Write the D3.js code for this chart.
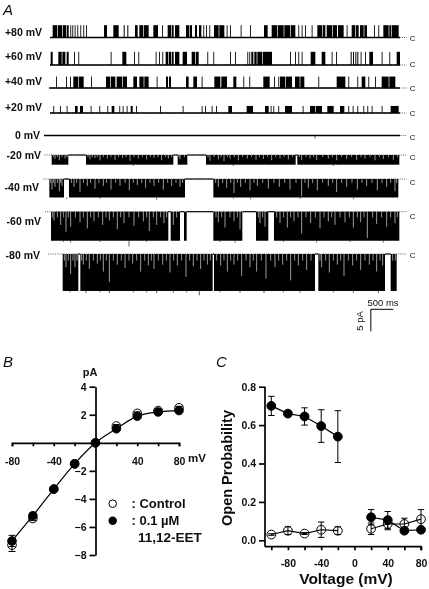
<!DOCTYPE html>
<html>
<head>
<meta charset="utf-8">
<script src="https://cdnjs.cloudflare.com/ajax/libs/d3/7.8.5/d3.min.js"></script>
<style>
  html, body { margin: 0; padding: 0; background: #fff; }
  text { font-family: "Liberation Sans", Arial, sans-serif; fill: #111; }
  .bold { font-weight: bold; }
  .panel { font-style: italic; font-size: 15px; }
</style>
</head>
<body>
<div id="chart"></div>
<script>
//Panel A: single channel records, digitised in ticks along the record (72 ticks = 500 ms)
var voltageLabels = ["+80 mV", "+60 mV", "+40 mV", "+20 mV", "0 mV", "-20 mV", "-40 mV", "-60 mV", "-80 mV"];
var amplitudes = [2.8, 3.0, 2.6, 1.6, 0, -2.2, -4.2, -6.6, -8.4];
//[start, end] of each opening, a lone number is a brief opening
var open80 = [[158,172],[174,186],[188,198],[200,206],211,217,224,232,241,250,258,[312,321],[340,356],[371,374],[382,385],[405,413],[418,430],[432,446],[460,474],486,[503,513],[515,521],[525,538],[558,567],[569,576],[585,591],[597,604],610,618,628,[642,656],[658,673],680,690,722,750,[792,803],[815,831],[833,851],[853,870],[872,886],895,905,915,935,[952,966],[968,976],[980,996],[998,1011],[1014,1031],1040,[1055,1065],[1067,1076],[1080,1091],[1093,1101],1122,1135,[1150,1166],[1168,1174],[1176,1196]];
var open60 = [[152,158],[175,185],[187,196],[200,206],222,235,332,[367,379],402,415,467,477,487,[497,504],[506,513],[515,521],[525,538],[548,561],[575,586],[588,596],622,640,690,705,742,748,[754,760],[763,770],[772,786],[788,816],870,885,895,905,[932,946],[965,976],995,1008,[1052,1055],[1059,1062],[1066,1069],[1072,1075],1082,1095,[1108,1119],1145,1168,[1190,1200]];
var open40 = [168,198,210,[220,234],[236,251],273,[318,331],[333,346],[350,366],[368,381],[400,411],[418,431],[433,446],470,[498,504],[507,513],[558,566],[580,591],605,[643,661],[664,681],[700,709],730,748,[790,809],822,835,[840,856],[858,876],[885,899],[901,913],955,[1010,1036],1045,1072,[1085,1096],1105,1125,[1145,1166],[1168,1186]];
var open20 = [160,180,200,[225,233],[240,249],272,298,322,[335,343],358,368,380,[392,398],408,480,548,605,615,635,648,[685,696],[740,759],[795,806],812,820,835,[855,876],908,[930,946],[948,966],[982,1001],[1020,1033],1045,1058,1072,1090,1102,1115,1145,[1172,1196]];
var open0 = [];
var openN20 = [[155,205],[258,520],[533,562],[618,887],[892,1198]];
var openN40 = [[148,192],[207,555],[640,1195]];
var openN60 = [[153,505],[512,540],[552,560],[640,727],[768,805],[822,1198]];
var openN80 = [[188,235],[241,638],[642,945],[955,1155],[1172,1190]];
var traceOpenings = [open80, open60, open40, open20, open0, openN20, openN40, openN60, openN80];
//Brief closures inside the open blocks: [tick, current reached in pA]
var flickN20 = [[165,-.9],[178,-1.2],[195,-.8],[270,-1],[285,-.7],[300,-1.2],[322,-.8],[345,-1.1],[368,-.7],[390,-1.3],[415,-.8],[440,-1],[462,-.7],[485,-1.2],[505,-.8],[540,-1],[630,-1.3],[655,-1],[672,-1.4],[690,-.8],[715,-1.2],[742,-.8],[768,-1.1],[790,-.9],[815,-1.2],[840,-.8],[865,-1],[905,-1.2],[930,-.8],[950,-1.1],[985,-.8],[1010,-1.2],[1040,-.9],[1070,-1.1],[1095,-.8],[1125,-1.2],[1150,-.9],[1180,-1.1]];
var flickN40 = [[156,-2.4],[165,-1.8],[178,-2.8],[186,-1.6],[222,-1.8],[240,-3],[262,-1.6],[285,-2.2],[310,-1.6],[333,-2.4],[360,-1.5],[388,-2.6],[412,-1.4],[437,-2],[462,-1.6],[490,-2.4],[515,-1.6],[540,-1.8],[655,-1.8],[680,-2],[702,-3.2],[722,-1.8],[750,-2.6],[772,-1.6],[805,-2.2],[838,-1.8],[870,-2.4],[905,-3.9],[925,-2],[952,-2.6],[985,-1.6],[1010,-3],[1040,-1.8],[1072,-2.4],[1100,-1.6],[1132,-2.6],[1160,-1.8],[1185,-2.8]];
var flickN60 = [[162,-2],[182,-3],[198,-4.6],[212,-3.4],[240,-2.4],[262,-3.8],[282,-2.2],[308,-3],[328,-2],[352,-4],[372,-2.6],[402,-3.2],[430,-2.2],[448,-4.4],[470,-3],[492,-2.6],[520,-3],[655,-2.4],[675,-3.6],[702,-2.2],[720,-4],[780,-2.6],[795,-3.4],[840,-2.6],[862,-3.6],[882,-2.2],[905,-5],[932,-2.6],[960,-3.8],[985,-2.2],[1005,-3],[1035,-2.4],[1060,-3.6],[1082,-2.4],[1102,-6],[1130,-2.8],[1160,-3.4],[1185,-2.6]];
var flickN80 = [[198,-3],[212,-4.6],[225,-3],[250,-2.4],[268,-3.4],[292,-2.2],[310,-4],[328,-6.4],[352,-2.4],[375,-3.2],[398,-2.2],[422,-4],[445,-2.6],[462,-3.4],[488,-2.4],[510,-4.2],[532,-2.6],[558,-5.2],[580,-2.8],[602,-3.4],[622,-2.4],[662,-2.6],[682,-4],[702,-2.4],[725,-5],[750,-3],[770,-4],[798,-5.6],[825,-3],[848,-2.4],[872,-6],[895,-2.6],[920,-3.6],[965,-3],[988,-4.2],[1012,-2.4],[1032,-5],[1058,-2.6],[1082,-3.6],[1108,-2.4],[1130,-4],[1148,-2.6]];
var traceFlicker = [[], [], [], [], [], flickN20, flickN40, flickN60, flickN80];
//Shorter flicker along the top of each block, only ticks and one depth per record
var shallowN20 = [160,172,186,201,264,277,292,310,333,356,378,402,427,451,474,497,514,537,553,624,642,663,682,703,728,755,778,803,827,852,878,898,918,941,968,997,1025,1055,1083,1110,1138,1165,1192];
var shallowN40 = [152,161,172,182,214,230,250,272,297,320,347,375,400,425,450,476,503,528,548,647,668,692,712,736,762,788,822,854,888,915,938,968,998,1025,1056,1086,1116,1146,1172,1190];
var shallowN60 = [157,172,190,205,226,250,272,295,318,340,362,387,416,440,460,482,500,530,648,665,690,712,775,788,830,851,872,894,918,946,972,995,1020,1048,1072,1092,1118,1145,1172,1192];
var shallowN80 = [193,205,219,231,245,259,280,301,319,340,364,387,410,434,454,475,499,521,545,569,591,612,631,650,672,692,713,738,760,784,812,836,860,884,908,933,960,977,1000,1022,1045,1070,1095,1119,1140,1178,1186];
var traceShallow = [[], [], [], [], [], shallowN20, shallowN40, shallowN60, shallowN80];
var shallowDepth = [0, 0, 0, 0, 0, -0.5, -0.9, -1.3, -1.5];
//Excursions past the open level: [row, tick, current in pA]
var overshoots = [[7,387,-7.9],[8,598,-9.4],[8,258,-8.9],[8,328,-8.9],[8,470,-8.9],[8,792,-8.9],[8,1135,-8.9],[8,210,-8.7],[8,300,-8.7],[8,400,-8.7],[8,440,-8.7],[8,520,-8.8],[8,560,-8.7],[8,660,-8.7],[8,720,-8.8],[8,850,-8.7],[8,900,-8.8],[8,1000,-8.7],[8,1060,-8.8],[7,190,-6.9],[7,212,-7],[7,300,-6.9],[7,440,-6.9],[7,660,-6.9],[7,705,-7],[7,850,-6.9],[7,950,-7],[7,1050,-6.9],[7,1150,-7],[6,200,-4.5],[6,300,-4.5],[6,470,-4.7],[6,700,-4.5],[6,752,-4.6],[6,900,-4.5],[6,1060,-4.6],[5,700,-2.5],[5,400,-2.5],[5,1000,-2.5],[4,945,-.7]];

//Panel B: current voltage relation
var ivVoltage = [-80, -60, -40, -20, 0, 20, 40, 60, 80];
var ivControl = [-7.3, -5.4, -3.3, -1.5, 0, 1.2, 2.1, 2.3, 2.5];
var ivEet = [-7.0, -5.2, -3.3, -1.5, 0, 1.0, 1.9, 2.2, 2.3];
var ivControlErr = [0.45, 0.15, 0.1, 0.1, 0, 0.1, 0.1, 0.1, 0.1];
var ivEetErr = [0.4, 0.2, 0.1, 0.1, 0, 0.1, 0.1, 0.1, 0.1];

//Panel C: open probability, the two voltage groups are not joined
var poVoltageNeg = [-100, -80, -60, -40, -20];
var poVoltagePos = [20, 40, 60, 80];
var poControlNeg = [0.03, 0.05, 0.035, 0.055, 0.05];
var poControlNegErr = [0.004, 0.02, 0.005, 0.04, 0.02];
var poEetNeg = [0.70, 0.66, 0.645, 0.595, 0.54];
var poEetNegErr = [0.05, 0.01, 0.045, 0.085, 0.135];
var poControlPos = [0.06, 0.085, 0.085, 0.11];
var poControlPosErr = [0.03, 0.03, 0.03, 0.05];
var poEetPos = [0.12, 0.105, 0.05, 0.055];
var poEetPosErr = [0.04, 0.045, 0.01, 0.01];

//Set sizes
var width = 429, height = 589;
var svg = d3.select("#chart").append("svg")
  .attr("width", width).attr("height", height)
  .style("display", "block");
//Soften everything a little, the original is a scanned figure
var defs = svg.append("defs");
defs.append("filter").attr("id", "soft")
  .append("feGaussianBlur").attr("stdDeviation", 0.35);
var root = svg.append("g").attr("filter", "url(#soft)");

//---- Panel A ----
var xTick = d3.scaleLinear().domain([150, 1200]).range([50, 400]);
var pxPerPa = 4.4;
var rowY = d3.scaleOrdinal().domain(voltageLabels)
  .range([37.5, 65, 88, 113, 135.5, 155, 179, 211.7, 254]);
var labelY = d3.scaleOrdinal().domain(voltageLabels)
  .range([36, 60, 85, 110.7, 138.7, 159, 190.7, 225, 259]);
var labelRight = d3.scaleOrdinal().domain(voltageLabels)
  .range([42, 42, 42, 42, 40, 41, 39, 41, 40]);
var cY = d3.scaleOrdinal().domain(voltageLabels)
  .range([40.5, 67, 91, 116, 140, 159.5, 184.5, 219, 258]);
var traceStart = d3.scaleOrdinal().domain(voltageLabels)
  .range([150, 150, 148, 150, 132, 133, 130, 135, 145]);

var traces = root.append("g").attr("class", "traces");
voltageLabels.forEach(function(label, i) {
  var base = rowY(label);
  var yPa = d3.scaleLinear().domain([0, 1]).range([base, base - pxPerPa]);
  var g = traces.append("g");
  var ampl = amplitudes[i];
  var spans = traceOpenings[i].map(function(d) {
    return Array.isArray(d) ? d : [d, d + 2.6];
  });
  var ends = d3.extent(d3.merge(spans));

  //dotted closed level, out to the c label
  g.append("line")
    .attr("x1", xTick(traceStart(label))).attr("x2", xTick(1220))
    .attr("y1", base).attr("y2", base)
    .attr("stroke", "#333").attr("stroke-width", 0.8)
    .attr("stroke-dasharray", "1,1.2");

  //solid closed level where the channel is shut
  var closedParts = [];
  if (ampl < 0) {
    var prev = ends[0];
    spans.forEach(function(s) {
      if (s[0] > prev) closedParts.push([prev, s[0]]);
      prev = s[1];
    });
  } else {
    closedParts = [[traceStart(label), 1200]];
  }
  g.selectAll("line.shut").data(closedParts).enter().append("line")
    .attr("class", "shut")
    .attr("x1", function(d) { return xTick(d[0]); })
    .attr("x2", function(d) { return xTick(d[1]); })
    .attr("y1", base).attr("y2", base)
    .attr("stroke", "#000")
    .attr("stroke-width", ampl < 0 ? 1.1 : 1.7);

  //open blocks
  g.selectAll("rect").data(spans).enter().append("rect")
    .attr("x", function(d) { return xTick(d[0]); })
    .attr("width", function(d) { return Math.max(0.8, xTick(d[1]) - xTick(d[0])); })
    .attr("y", Math.min(yPa(0), yPa(ampl)))
    .attr("height", Math.abs(yPa(ampl) - yPa(0)))
    .attr("fill", "#000");

  //closures cut into the block from the closed level
  g.selectAll("line.flick").data(traceFlicker[i]).enter().append("line")
    .attr("class", "flick")
    .attr("x1", function(d) { return xTick(d[0]); })
    .attr("x2", function(d) { return xTick(d[0]); })
    .attr("y1", yPa(0) - 0.5)
    .attr("y2", function(d) { return yPa(d[1]); })
    .attr("stroke", "#c4c4c4").attr("stroke-width", 0.8);
  g.selectAll("line.shallow").data(traceShallow[i]).enter().append("line")
    .attr("class", "shallow")
    .attr("x1", function(d) { return xTick(d); })
    .attr("x2", function(d) { return xTick(d); })
    .attr("y1", yPa(0) - 0.5)
    .attr("y2", yPa(shallowDepth[i]))
    .attr("stroke", "#b8b8b8").attr("stroke-width", 0.8);

  //frayed edge on the open level
  overshoots.filter(function(d) { return d[0] === i; }).forEach(function(d) {
    g.append("line")
      .attr("x1", xTick(d[1])).attr("x2", xTick(d[1]))
      .attr("y1", yPa(ampl)).attr("y2", yPa(d[2]))
      .attr("stroke", "#222").attr("stroke-width", 0.7);
  });

  root.append("text").attr("class", "bold")
    .attr("x", labelRight(label)).attr("y", labelY(label))
    .attr("text-anchor", "end").attr("font-size", 10.5)
    .text(label);
  root.append("text")
    .attr("x", 412.7).attr("y", cY(label))
    .attr("text-anchor", "middle").attr("font-size", 8)
    .text("C");
});

//scale bar, 500 ms and 5 pA
var barTicks = [1108, 1180];
var barTop = 309.3;
root.append("path")
  .attr("d", d3.line()([[xTick(barTicks[1]), barTop], [xTick(barTicks[0]) + 1.5, barTop], [xTick(barTicks[0]) + 1.5, barTop + 5 * pxPerPa]]))
  .attr("fill", "none").attr("stroke", "#000").attr("stroke-width", 1);
root.append("text").attr("x", 383).attr("y", 305.7)
  .attr("text-anchor", "middle").attr("font-size", 9.5).text("500 ms");
root.append("text").attr("transform", "translate(363,321) rotate(-90)")
  .attr("text-anchor", "middle").attr("font-size", 9.5).text("5 pA");

//panel letters
root.append("text").attr("class", "panel").attr("x", 3).attr("y", 15).text("A");
root.append("text").attr("class", "panel").attr("x", 3).attr("y", 367).text("B");
root.append("text").attr("class", "panel").attr("x", 216).attr("y", 367).text("C");

//Helper for axis styling
function styleAxis(sel, size) {
  sel.selectAll("path,line").attr("stroke", "#000").attr("stroke-width", 1.7);
  sel.selectAll("text").attr("class", "bold")
    .attr("font-size", size).attr("font-family", null).attr("fill", null);
}
function drawErrors(g, xs, ys, errs, x, y, cap) {
  xs.forEach(function(v, i) {
    if (!errs[i]) return;
    var top = y(ys[i] + errs[i]), bottom = y(ys[i] - errs[i]);
    g.append("path")
      .attr("d", "M" + x(v) + "," + top + "V" + bottom +
        "M" + (x(v) - cap) + "," + top + "H" + (x(v) + cap) +
        "M" + (x(v) - cap) + "," + bottom + "H" + (x(v) + cap))
      .attr("fill", "none").attr("stroke", "#000").attr("stroke-width", 1);
  });
}
function drawDots(g, xs, ys, x, y, r, filled) {
  g.selectAll(null).data(xs).enter().append("circle")
    .attr("cx", function(d) { return x(d); })
    .attr("cy", function(d, i) { return y(ys[i]); })
    .attr("r", r)
    .attr("fill", filled ? "#000" : "none")
    .attr("stroke", "#000").attr("stroke-width", 1);
}

//---- Panel B ----
var xB = d3.scaleLinear().domain([-80, 80]).range([12, 179]);
var yB = d3.scaleLinear().domain([-8, 4]).range([555, 386.7]);
var b = root.append("g");
var bx = b.append("g").attr("transform", "translate(0," + yB(0) + ")")
  .call(d3.axisBottom(xB).tickValues(ivVoltage).tickSizeInner(3.5).tickSizeOuter(3.5).tickPadding(11)
    .tickFormat(function(d) { return (d !== 0 && d % 40 === 0) ? d : ""; }));
styleAxis(bx, 10.5);
var by = b.append("g").attr("transform", "translate(" + xB(0) + ",0)")
  .call(d3.axisLeft(yB).tickValues([-8, -6, -4, -2, 2, 4]).tickSizeInner(6).tickSizeOuter(0).tickPadding(3)
    .tickFormat(d3.format("d")));
styleAxis(by, 10.5);
drawErrors(b, ivVoltage, ivControl, ivControlErr, xB, yB, 3.5);
drawErrors(b, ivVoltage, ivEet, ivEetErr, xB, yB, 3.5);
drawDots(b, ivVoltage, ivControl, xB, yB, 4.3, false);
b.append("path").datum(ivEet)
  .attr("d", d3.line().x(function(d, i) { return xB(ivVoltage[i]); }).y(function(d) { return yB(d); }).curve(d3.curveMonotoneX))
  .attr("fill", "none").attr("stroke", "#000").attr("stroke-width", 1.2);
drawDots(b, ivVoltage, ivEet, xB, yB, 4.3, true);
b.append("text").attr("class", "bold").attr("x", 90).attr("y", 375.5)
  .attr("text-anchor", "middle").attr("font-size", 11).text("pA");
b.append("text").attr("class", "bold").attr("x", 188).attr("y", 462)
  .attr("font-size", 11.5).text("mV");
//legend
b.append("circle").attr("cx", 112.7).attr("cy", 503.7).attr("r", 3.8)
  .attr("fill", "none").attr("stroke", "#000").attr("stroke-width", 1);
b.append("circle").attr("cx", 112.7).attr("cy", 520.7).attr("r", 4.2).attr("fill", "#000");
b.append("text").attr("class", "bold").attr("x", 131.5).attr("y", 507.5)
  .attr("font-size", 13).text(": Control");
b.append("text").attr("class", "bold").attr("x", 131.5).attr("y", 525)
  .attr("font-size", 13).text(": 0.1 \u00b5M");
b.append("text").attr("class", "bold").attr("x", 138).attr("y", 542)
  .attr("font-size", 13.5).text("11,12-EET");

//---- Panel C ----
var xC = d3.scaleLinear().domain([-100, 80]).range([271.3, 421]);
var yC = d3.scaleLinear().domain([0, 0.8]).range([540.3, 386.7]);
var c = root.append("g");
var axisBottomY = 546.7, axisLeftX = 265;
var cx = c.append("g").attr("transform", "translate(0," + axisBottomY + ")")
  .call(d3.axisBottom(xC).tickValues(d3.range(-100, 81, 20)).tickSizeInner(3.5).tickSizeOuter(3.5).tickPadding(9)
    .tickFormat(function(d) { return d % 40 === 0 ? d : ""; }));
cx.select(".domain").attr("d", "M" + axisLeftX + ",0H" + xC(80) + "V3.5");
styleAxis(cx, 10.5);
var cy = c.append("g").attr("transform", "translate(" + axisLeftX + ",0)")
  .call(d3.axisLeft(yC).tickValues([0, 0.2, 0.4, 0.6, 0.8]).tickSizeInner(6).tickSizeOuter(0).tickPadding(3)
    .tickFormat(d3.format(".1f")));
cy.select(".domain").attr("d", "M0," + yC(0.8) + "V" + axisBottomY);
styleAxis(cy, 10.5);
var lineC = function(xs) {
  return d3.line().x(function(d, i) { return xC(xs[i]); }).y(function(d) { return yC(d); });
};
[[poVoltageNeg, poControlNeg, poControlNegErr, false], [poVoltagePos, poControlPos, poControlPosErr, false],
 [poVoltageNeg, poEetNeg, poEetNegErr, true], [poVoltagePos, poEetPos, poEetPosErr, true]].forEach(function(s) {
  c.append("path").datum(s[1]).attr("d", lineC(s[0]))
    .attr("fill", "none").attr("stroke", "#000").attr("stroke-width", 1.2);
  drawErrors(c, s[0], s[1], s[2], xC, yC, 3.2);
  drawDots(c, s[0], s[1], xC, yC, 4.4, s[3]);
});
c.append("text").attr("class", "bold").attr("x", 346).attr("y", 584)
  .attr("text-anchor", "middle").attr("font-size", 15.5).text("Voltage (mV)");
c.append("text").attr("class", "bold").attr("transform", "translate(231.5,468) rotate(-90)")
  .attr("text-anchor", "middle").attr("font-size", 14.5).text("Open Probability");
</script>
</body>
</html>
